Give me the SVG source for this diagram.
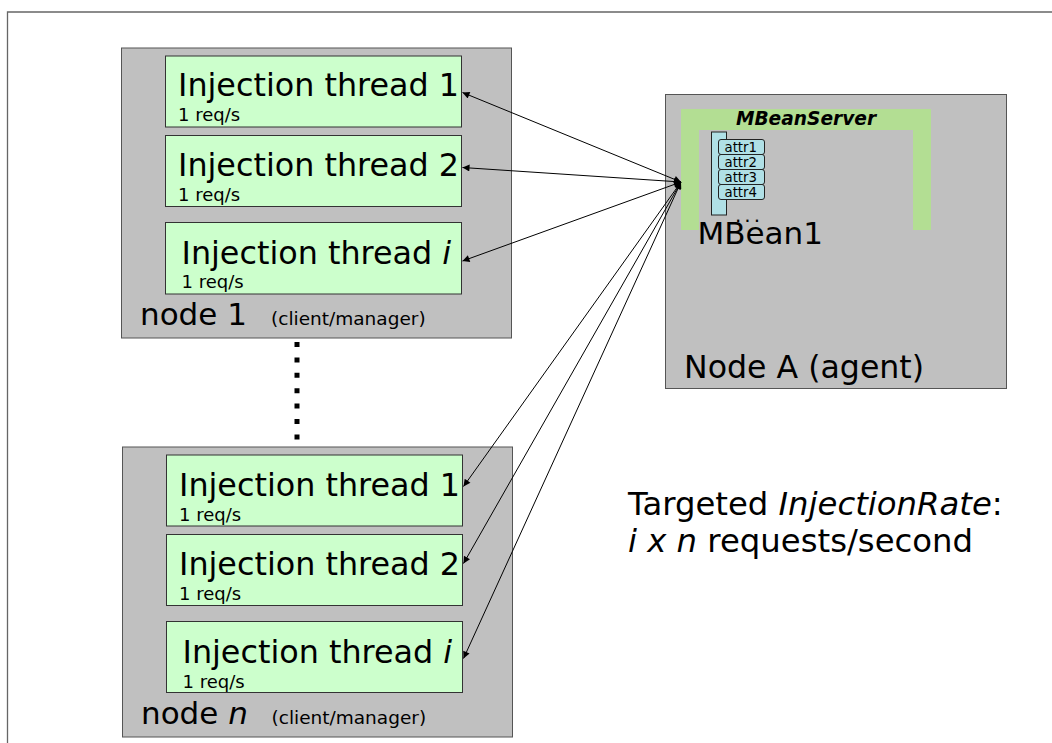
<svg xmlns="http://www.w3.org/2000/svg" width="1052" height="743" viewBox="0 0 1052 743">
<defs>
<style>
.t{font-family:"DejaVu Sans","Liberation Sans",sans-serif;fill:#000}
.node{fill:#c0c0c0;stroke:#555;stroke-width:1}
.thr{fill:#ccffcc;stroke:#333;stroke-width:1}
.big{font-size:31.8px}
.sm{font-size:18px}
.lbl{font-size:31px}
.note{font-size:18.5px}
.attr{fill:#b0e0e6;stroke:#222;stroke-width:1}
.at{font-size:13.3px}
.conn{stroke:#000;stroke-width:1;fill:none;marker-start:url(#ah);marker-end:url(#ah)}
</style>
<marker id="ah" viewBox="0 0 10 10" refX="10" refY="5" markerWidth="9" markerHeight="7" markerUnits="userSpaceOnUse" orient="auto-start-reverse">
<path d="M0,0 L10,5 L0,10 z" fill="#000"/>
</marker>
</defs>
<rect width="1052" height="743" fill="#fff"/>
<path d="M7.5,743 V12 H1052" fill="none" stroke="#666" stroke-width="1.3"/>

<g id="node1">
<rect class="node" x="121.5" y="48" width="390" height="290"/>
<g id="n1t1"><rect class="thr" x="165.5" y="56" width="296" height="71"/>
<text class="t big" x="178" y="96">Injection thread 1</text>
<text class="t sm" x="178" y="121">1 req/s</text></g>
<g id="n1t2"><rect class="thr" x="165.5" y="135.5" width="296" height="71"/>
<text class="t big" x="178" y="175.5">Injection thread 2</text>
<text class="t sm" x="178" y="200.5">1 req/s</text></g>
<g id="n1ti"><rect class="thr" x="165.5" y="222.5" width="296" height="71.5"/>
<text class="t big" x="181.5" y="263.5">Injection thread <tspan font-style="italic">i</tspan></text>
<text class="t sm" x="181.5" y="288">1 req/s</text></g>
<text class="t lbl" x="140" y="325">node 1</text>
<text class="t note" x="271" y="325">(client/manager)</text>
</g>

<g id="dots">
<line x1="297" y1="342" x2="297" y2="441" stroke="#000" stroke-width="5" stroke-dasharray="5 10.4"/>
</g>

<g id="noden">
<rect class="node" x="122.5" y="447" width="390" height="290"/>
<g id="nnt1"><rect class="thr" x="166.5" y="455" width="296" height="71"/>
<text class="t big" x="179" y="496">Injection thread 1</text>
<text class="t sm" x="179" y="521">1 req/s</text></g>
<g id="nnt2"><rect class="thr" x="166.5" y="534.5" width="296" height="71"/>
<text class="t big" x="179" y="575">Injection thread 2</text>
<text class="t sm" x="179" y="600">1 req/s</text></g>
<g id="nnti"><rect class="thr" x="166.5" y="621.5" width="296" height="71"/>
<text class="t big" x="182.5" y="662.5">Injection thread <tspan font-style="italic">i</tspan></text>
<text class="t sm" x="182.5" y="687.5">1 req/s</text></g>
<text class="t lbl" x="141" y="723.5">node <tspan font-style="italic">n</tspan></text>
<text class="t note" x="271.5" y="723.5">(client/manager)</text>
</g>

<g id="nodeA">
<rect class="node" x="665.5" y="94.5" width="341" height="294"/>
<path d="M681,109 H931 V230 H913 V130 H699 V230 H681 z" fill="#b3de93"/>
<text class="t" x="806" y="125" font-size="18.6" font-weight="bold" font-style="italic" text-anchor="middle">MBeanServer</text>
<g id="mbean1">
<rect class="attr" x="711.5" y="132" width="15" height="83"/>
<rect class="attr" x="718.5" y="139.5" width="46" height="15" rx="2.5"/>
<rect class="attr" x="718.5" y="154.5" width="46" height="15" rx="2.5"/>
<rect class="attr" x="718.5" y="169.5" width="46" height="15" rx="2.5"/>
<rect class="attr" x="718.5" y="184.5" width="46" height="15" rx="2.5"/>
<text class="t at" x="724.5" y="152">attr1</text>
<text class="t at" x="724.5" y="167">attr2</text>
<text class="t at" x="724.5" y="182">attr3</text>
<text class="t at" x="724.5" y="197">attr4</text>
<text class="t" x="697.5" y="243.5" font-size="31">MBean1</text>
<text class="t" x="735" y="222" font-size="20" letter-spacing="3">...</text>
</g>
<text class="t" x="684" y="378" font-size="31.6">Node A (agent)</text>
</g>

<g id="connectors">
<line class="conn" x1="681" y1="182" x2="462.5" y2="92.5"/>
<line class="conn" x1="681" y1="182" x2="462.5" y2="167.5"/>
<line class="conn" x1="681" y1="182" x2="462.5" y2="261"/>
<line class="conn" x1="681" y1="182" x2="463.5" y2="486.5"/>
<line class="conn" x1="681" y1="182" x2="463.5" y2="563.5"/>
<line class="conn" x1="681" y1="182" x2="463.5" y2="658.5"/>
</g>

<g id="rate">
<text class="t" x="628" y="515" font-size="32.3">Targeted <tspan font-style="italic">InjectionRate</tspan>:</text>
<text class="t" x="628" y="552" font-size="32.3"><tspan font-style="italic">i x n</tspan> requests/second</text>
</g>
</svg>
